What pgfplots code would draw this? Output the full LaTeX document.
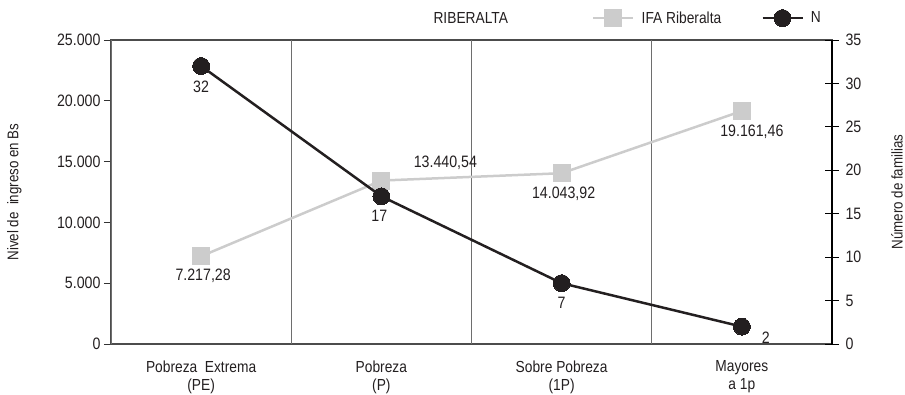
\documentclass[border=0pt]{standalone}
\usepackage{pgfplots}
\usepackage{pgfplotstable}
\pgfplotsset{compat=1.18}
\usepackage{fontspec}
\setmainfont{Liberation Sans}[FakeStretch=0.86]

\definecolor{ifagray}{RGB}{204,204,204}
\definecolor{ndark}{RGB}{35,31,32}
\definecolor{sepgray}{RGB}{110,110,110}

% x = category position, lab = data label, dx/dy = label offset in pt
\pgfplotstableread{
x   y         lab         dx   dy
0.5 7217.28   {7.217,28}  2    -20
1.5 13440.54  {13.440,54} 64   18
2.5 14043.92  {14.043,92} 2    -21
3.5 19161.46  {19.161,46} 10   -21
}\ifatable

\pgfplotstableread{
x   y   lab  dx   dy
0.5 32  {32} 0    -21
1.5 17  {17} -2   -19
2.5 7   {7}  0    -20
3.5 2   {2}  24   -11
}\ntable

\begin{document}
\begin{tikzpicture}[font=\fontsize{16}{18}\selectfont]
\pgfplotsset{
  every axis/.append style={
    scale only axis, width=721pt, height=304pt,
    xmin=0, xmax=4, clip=false,
    /pgf/number format/assume math mode=true,
    /pgf/number format/1000 sep={.},
    tick label style={font=\fontsize{16.5}{18}\selectfont, text=ndark},
    label style={font=\fontsize{15.5}{18}\selectfont, text=ndark},
  },
  lbl/.style={
    nodes near coords, point meta=explicit symbolic,
    visualization depends on={\thisrow{dx} \as \dx},
    visualization depends on={\thisrow{dy} \as \dy},
    nodes near coords style={anchor=center, xshift=\dx pt, yshift=\dy pt,
      font=\fontsize{16.5}{18}\selectfont, text=ndark},
  },
}
\begin{axis}[
    ymin=0, ymax=25000,
    ytick={0,5000,10000,15000,20000,25000},
    scaled y ticks=false,
    ytick pos=left, xtick pos=bottom,
    tick align=outside,
    major tick length=7pt,
    xtick={0.5,1.5,2.5,3.5},
    xticklabels={{Pobreza~~Extrema\\(PE)},{Pobreza\\(P)},{Sobre Pobreza\\(1P)},{Mayores\\a 1p}},
    x tick label style={align=center, yshift=-6pt, font=\fontsize{16}{18}\selectfont},
    xtick style={draw=none},
    extra x ticks={0,1,2,3,4},
    extra x tick labels={},
    extra x tick style={grid=major, major grid style={draw=sepgray, line width=0.9pt},
      tick style={draw=black!80, line width=0.9pt}},
    axis line style={draw=black!70, line width=1.3pt},
    ytick style={draw=black!80, line width=0.9pt},
    ylabel={Nivel de ~ingreso en Bs},
    ylabel style={at={(axis description cs:-0.134,0.5)}, anchor=center},
]
\addplot[color=ifagray, line width=2.5pt, mark=square*, mark size=8.5pt,
  mark options={fill=ifagray, draw=ifagray, line width=0pt}, lbl]
  table[x=x, y=y, meta=lab] {\ifatable};
\end{axis}

\begin{axis}[
    ymin=0, ymax=35,
    ytick={0,5,...,35},
    axis x line=none,
    axis y line*=right,
    tick align=center,
    major tick length=14pt,
    y axis line style={draw=black, line width=1.2pt},
    ytick style={draw=black, line width=0.9pt},
    yticklabel style={xshift=3pt},
    ylabel={Número de familias},
    ylabel style={at={(axis description cs:1.090,0.5)}, anchor=center},
    legend columns=2,
    legend style={draw=none, fill=none, at={(axis description cs:0.663,1.072)},
      anchor=west, font=\fontsize{16}{18}\selectfont, text=ndark,
      /tikz/every odd column/.append style={column sep=5pt},
      /tikz/every even column/.append style={column sep=38pt}},
    legend image code/.code={
      \draw[mark repeat=2, mark phase=2, #1] plot coordinates {(0pt,0pt) (20pt,0pt) (40pt,0pt)};
    },
]
\addlegendimage{color=ifagray, line width=2.5pt, mark=square*, mark size=8.5pt,
  mark options={fill=ifagray, draw=ifagray, line width=0pt}}
\addlegendentry{IFA Riberalta}
\addplot[color=ndark, line width=2.5pt, mark=*, mark size=8.5pt,
  mark options={fill=ndark, draw=ndark, line width=0pt}, lbl]
  table[x=x, y=y, meta=lab] {\ntable};
\addlegendentry{N}
\node[font=\fontsize{16}{18}\selectfont, text=ndark] at (axis description cs:0.499,1.072) {RIBERALTA};
\end{axis}
\pgfresetboundingbox
\useasboundingbox (-111pt,-51pt) rectangle (794pt,344pt);
\end{tikzpicture}
\end{document}
